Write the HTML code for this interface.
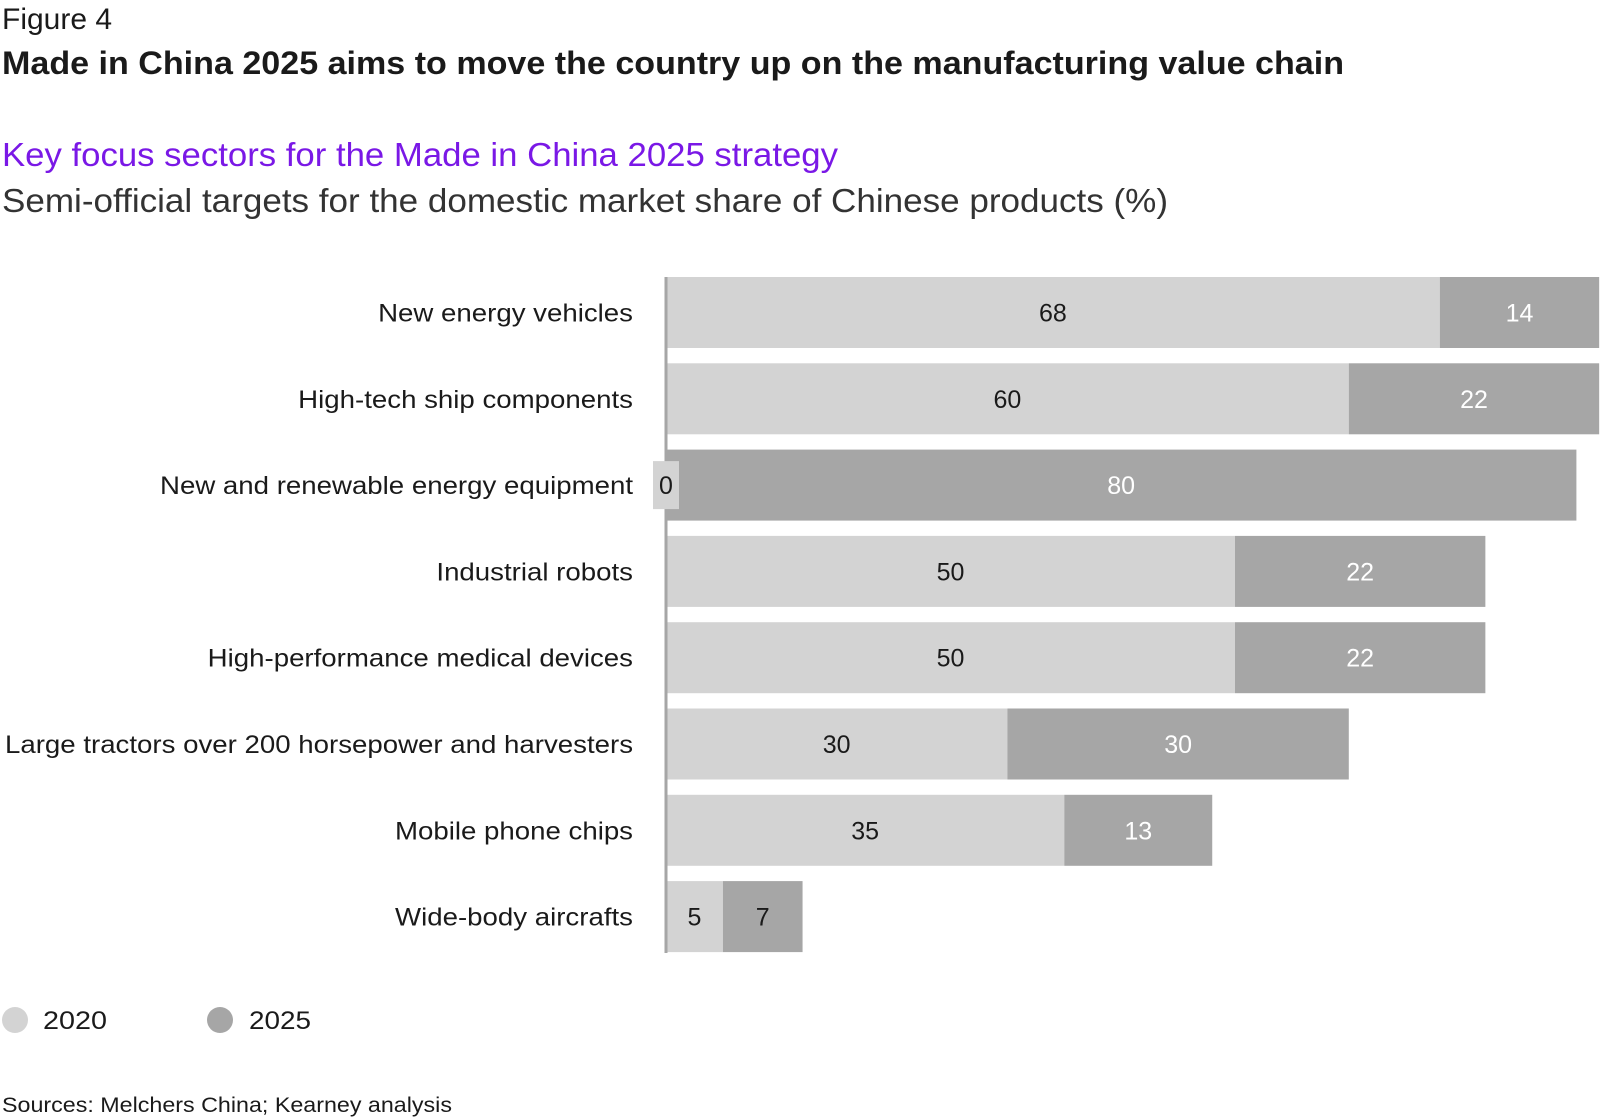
<!DOCTYPE html>
<html><head><meta charset="utf-8"><style>body{margin:0;background:#fff}svg{display:block;font-family:"Liberation Sans",sans-serif}</style></head>
<body>
<svg width="1600" height="1119">
<text x="2" y="29" font-size="30" fill="#1a1a1a">Figure 4</text>
<text x="2" y="74" font-size="32" font-weight="bold" fill="#1a1a1a" textLength="1342" lengthAdjust="spacingAndGlyphs">Made in China 2025 aims to move the country up on the manufacturing value chain</text>
<text x="2" y="166" font-size="33" fill="#7a18e6" textLength="836" lengthAdjust="spacingAndGlyphs">Key focus sectors for the Made in China 2025 strategy</text>
<text x="2" y="212" font-size="33" fill="#333" textLength="1166" lengthAdjust="spacingAndGlyphs">Semi-official targets for the domestic market share of Chinese products (%)</text>
<g id="bars"></g>
<line x1="666" y1="277" x2="666" y2="953" stroke="#a6a6a6" stroke-width="3"/>
<g id="zero"></g>
<circle cx="15" cy="1020" r="13" fill="#d3d3d3"/>
<text x="43" y="1029" font-size="25" fill="#1a1a1a" textLength="64" lengthAdjust="spacingAndGlyphs">2020</text>
<circle cx="220" cy="1020" r="13" fill="#a6a6a6"/>
<text x="249" y="1029" font-size="25" fill="#1a1a1a" textLength="62" lengthAdjust="spacingAndGlyphs">2025</text>
<text x="2" y="1112" font-size="21" fill="#1a1a1a" textLength="450" lengthAdjust="spacingAndGlyphs">Sources: Melchers China; Kearney analysis</text>
</svg>
<script>
const categories=["New energy vehicles","High-tech ship components","New and renewable energy equipment","Industrial robots","High-performance medical devices","Large tractors over 200 horsepower and harvesters","Mobile phone chips","Wide-body aircrafts"];
const values2020=[68,60,0,50,50,30,35,5];
const values2025=[14,22,80,22,22,30,13,7];
const NS="http://www.w3.org/2000/svg";
const x0=666,k=11.38,top0=277,step=86.3,bh=71;
const xs=v=>x0+v*k;
const g=document.getElementById('bars');
function mk(tag,attrs,parent){const e=document.createElementNS(NS,tag);for(const a in attrs)e.setAttribute(a,attrs[a]);parent.appendChild(e);return e;}
categories.forEach((c,i)=>{
 const y=top0+i*step, cy=y+bh/2;
 const lab=mk('text',{x:633,y:cy+9,'font-size':25,fill:'#1a1a1a','text-anchor':'end'},g);lab.textContent=c;
 
 
 const w=lab.getComputedTextLength();
 lab.setAttribute('textLength',(w*1.105).toFixed(1));
 lab.setAttribute('lengthAdjust','spacingAndGlyphs');
 const a=values2020[i],b=values2025[i];
 if(a>0){
  const r=mk('rect',{x:xs(0),y:y,width:xs(a)-xs(0),height:bh,fill:'#d3d3d3'},g);
  
  
  const t=mk('text',{x:(xs(0)+xs(a))/2,y:cy+9,'font-size':25,fill:'#1a1a1a','text-anchor':'middle'},g);t.textContent=a;
  
  
 }
 const r2=mk('rect',{x:xs(a),y:y,width:xs(a+b)-xs(a),height:bh,fill:'#a6a6a6'},g);
 
 
 const t2=mk('text',{x:(xs(a)+xs(a+b))/2,y:cy+9,'font-size':25,fill:b<10?'#1a1a1a':'#fff','text-anchor':'middle'},g);t2.textContent=b;
 
 
 if(a===0){
  const z=document.getElementById('zero');
  const zb=mk('rect',{x:653,y:cy-24,width:26,height:48,fill:'#d3d3d3'},z);
  
  
  const zt=mk('text',{x:666,y:cy+9,'font-size':25,fill:'#1a1a1a','text-anchor':'middle'},z);zt.textContent=a;
  
  
 }
});
</script>
</body></html>
